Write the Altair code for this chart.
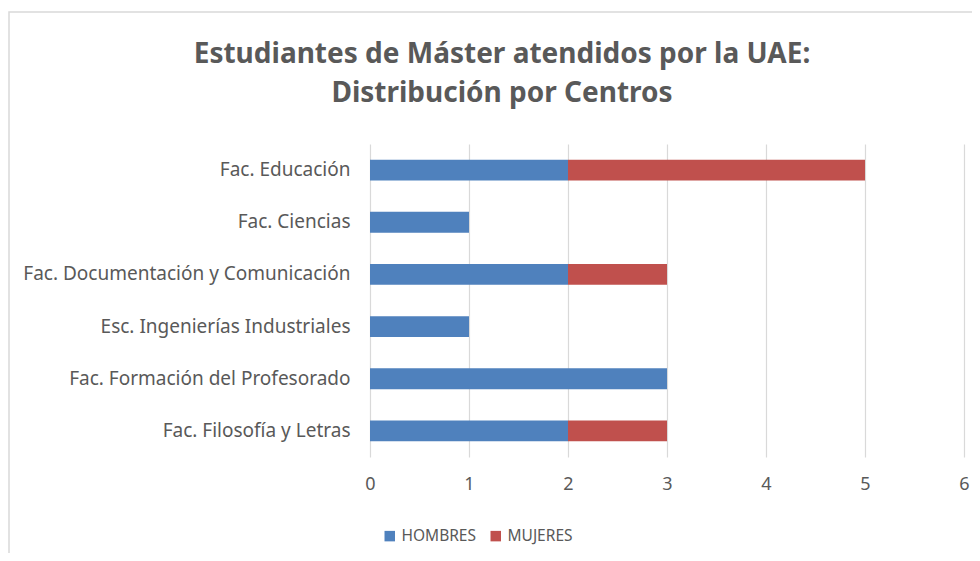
import altair as alt
import pandas as pd

centros = [
    "Fac. Educación",
    "Fac. Ciencias",
    "Fac. Documentación y Comunicación",
    "Esc. Ingenierías Industriales",
    "Fac. Formación del Profesorado",
    "Fac. Filosofía y Letras",
]
hombres = [2, 1, 2, 1, 3, 2]
mujeres = [3, 0, 1, 0, 0, 1]
series = ["HOMBRES", "MUJERES"]
colores = ["#4f81bd", "#c0504d"]
titulo = ["Estudiantes de Máster atendidos por la UAE:", "Distribución por Centros"]

rows = []
for c, h, m in zip(centros, hombres, mujeres):
    rows.append({"centro": c, "sexo": "HOMBRES", "valor": h, "orden": 0})
    rows.append({"centro": c, "sexo": "MUJERES", "valor": m, "orden": 1})
df = pd.DataFrame(rows)

FONT = "Noto Sans"
GRAY = "#595959"

one = pd.DataFrame({"a": [0]})

border = alt.Chart(one).mark_rect(
    fill=None, stroke="#d9d9d9", strokeWidth=1.5
).encode(
    x=alt.value(-361), x2=alt.value(700), y=alt.value(-132), y2=alt.value(500)
)

title1 = alt.Chart(one).mark_text(
    font=FONT, fontSize=28, fontWeight="bold", color=GRAY,
    align="center", baseline="alphabetic"
).encode(x=alt.value(132), y=alt.value(-81), text=alt.value(titulo[0]))

title2 = alt.Chart(one).mark_text(
    font=FONT, fontSize=28, fontWeight="bold", color=GRAY,
    align="center", baseline="alphabetic"
).encode(x=alt.value(132), y=alt.value(-42), text=alt.value(titulo[1]))

bars = alt.Chart(df).mark_bar().encode(
    y=alt.Y("centro:N", sort=centros, title=None,
            scale=alt.Scale(paddingInner=0.6, paddingOuter=0.3),
            axis=alt.Axis(ticks=False, domain=False, labelPadding=20,
                          labelFontSize=19, labelColor=GRAY, labelFont=FONT,
                          labelLimit=400)),
    x=alt.X("valor:Q", stack="zero", title=None,
            scale=alt.Scale(domain=[0, 6], nice=False),
            axis=alt.Axis(values=[0, 1, 2, 3, 4, 5, 6], ticks=False, domain=False,
                          grid=True, gridColor="#d9d9d9", gridWidth=1.2,
                          labelFlush=False,
                          labelPadding=18, labelFontSize=18, labelColor=GRAY,
                          labelFont=FONT, format="d")),
    color=alt.Color("sexo:N", scale=alt.Scale(domain=series, range=colores),
                    legend=alt.Legend(title=None, orient="none", legendX=12, legendY=384,
                                      direction="horizontal", symbolType="square",
                                      symbolSize=110, symbolStrokeWidth=0,
                                      labelFontSize=15.5, labelColor=GRAY, labelFont=FONT,
                                      labelOffset=4, columnPadding=12)),
    order=alt.Order("orden:Q"),
)

chart = alt.layer(border, title1, title2, bars).properties(
    width=594,
    height=313,
    padding={"left": 362, "top": 136, "right": 8, "bottom": 96},
    autosize=alt.AutoSizeParams(type="none"),
).configure_view(stroke=None)

chart.save("out.html", embed_options={"renderer": "svg", "actions": False})
